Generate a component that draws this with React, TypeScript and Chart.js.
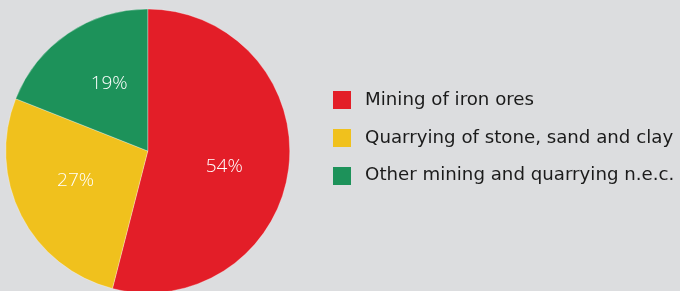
import React, { useEffect, useRef } from "react";
import { Chart, registerables } from "chart.js";

Chart.register(...registerables);

const categories: string[] = [
  "Mining of iron ores",
  "Quarrying of stone, sand and clay",
  "Other mining and quarrying n.e.c.",
];
const shares: number[] = [54, 27, 19];
const sliceColors: string[] = ["#E31E28", "#F0C11D", "#1D925A"];

const BG = "#DCDDDF";
const TEXT = "#1b1b1b";

function makeSwatch(color: string): HTMLCanvasElement {
  const c = document.createElement("canvas");
  c.width = 23;
  c.height = 18;
  const ctx = c.getContext("2d")!;
  ctx.fillStyle = color;
  ctx.fillRect(0, 0, 18, 18);
  return c;
}

const sliceLabelPlugin = {
  id: "sliceLabels",
  afterDatasetsDraw(chart: any) {
    const meta = chart.getDatasetMeta(0);
    const ctx = chart.ctx;
    ctx.save();
    ctx.fillStyle = "#ffffff";
    ctx.font = "300 19px 'Open Sans'";
    ctx.textAlign = "center";
    ctx.textBaseline = "middle";
    meta.data.forEach((arc: any, i: number) => {
      const p = arc.getProps(["x", "y", "startAngle", "endAngle", "outerRadius"], true);
      const mid = (p.startAngle + p.endAngle) / 2 + 0.08;
      const r = p.outerRadius * 0.55;
      ctx.fillText(`${shares[i]}%`, p.x + Math.cos(mid) * r, p.y + Math.sin(mid) * r);
    });
    ctx.restore();
  },
};

export default function App() {
  const ref = useRef<HTMLCanvasElement | null>(null);

  useEffect(() => {
    document.body.style.margin = "0";
    document.body.style.background = BG;
    const swatches = sliceColors.map(makeSwatch);
    const chart = new Chart(ref.current!, {
      type: "pie",
      data: {
        labels: categories,
        datasets: [
          {
            data: shares,
            backgroundColor: sliceColors,
            borderColor: "rgba(255,255,255,0.6)",
            borderWidth: 0.5,
            radius: 142,
            clip: false,
          } as any,
        ],
      },
      options: {
        responsive: false,
        animation: false,
        layout: { padding: { left: 0, top: 9, bottom: 0, right: 4.5 } },
        plugins: {
          tooltip: { enabled: false },
          legend: {
            position: "right",
            align: "start",
            maxWidth: 362,
            title: {
              display: true,
              text: " ",
              font: { size: 10, lineHeight: 1 },
              padding: { top: 52.5, bottom: 0 },
            },
            labels: {
              usePointStyle: true,
              pointStyleWidth: 23,
              boxHeight: 18,
              padding: 19.5,
              color: TEXT,
              font: { family: "'DejaVu Sans'", size: 18.2 },
              generateLabels: () =>
                categories.map((text, i) => ({
                  text,
                  fillStyle: sliceColors[i],
                  strokeStyle: sliceColors[i],
                  fontColor: TEXT,
                  lineWidth: 0,
                  hidden: false,
                  index: i,
                  pointStyle: swatches[i],
                })),
            },
          },
        },
      } as any,
      plugins: [sliceLabelPlugin],
    });
    return () => chart.destroy();
  }, []);

  return (
    <div
      style={{
        position: "fixed",
        left: 0,
        top: 0,
        width: 680,
        height: 291,
        overflow: "hidden",
        background: BG,
      }}
    >
      <canvas
        ref={ref}
        width={698}
        height={293}
        style={{ display: "block", position: "absolute", left: -18, top: 0 }}
      />
    </div>
  );
}
